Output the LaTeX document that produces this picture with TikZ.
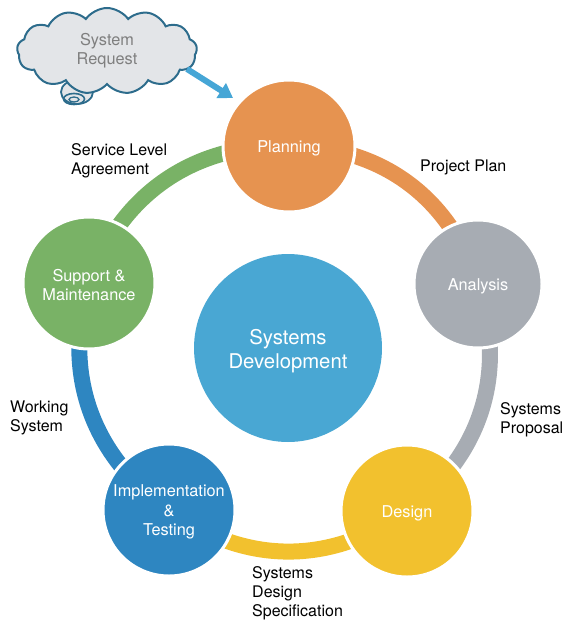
\documentclass[tikz,border=0pt]{standalone}
\usepackage{fontspec}
\setmainfont{TeX Gyre Heros}
\usetikzlibrary{shapes.symbols,arrows.meta}
\definecolor{cplan}{HTML}{E69350}
\definecolor{cana}{HTML}{A7ACB3}
\definecolor{cdes}{HTML}{F2C12E}
\definecolor{cimp}{HTML}{2E86C1}
\definecolor{csup}{HTML}{79B266}
\definecolor{ccen}{HTML}{49A7D3}
\definecolor{carrow}{HTML}{46A6D6}
\definecolor{ccloud}{HTML}{E3E5E8}
\definecolor{ccloudb}{HTML}{2D6C8C}
\definecolor{ccloudt}{HTML}{7F7F7F}
\pgfdeclarelayer{bg}
\pgfsetlayers{bg,main}
\tikzset{
  stage/.style={circle, minimum size=132pt, inner sep=0pt, draw=white, line width=3pt,
    text=white, align=center, font=\fontsize{16.3}{19.5}\selectfont},
  stagetext/.style={text=white, align=center, inner sep=0pt, font=\fontsize{16.3}{19.5}\selectfont},
  ring/.style={line width=16pt},
  lbl/.style={anchor=west, align=left, inner sep=0pt, font=\fontsize{16}{18.8}\selectfont, text=black},
}
\begin{document}
\begin{tikzpicture}[x=1pt,y=1pt]
\useasboundingbox (0,0) rectangle (565,-621);
% stages
\node[stage, fill=cplan] (plan) at (289,-146) {};
\node[stage, fill=cana, minimum size=128pt] (ana) at (478,-284) {};
\node[stage, fill=cdes] (des) at (407,-511) {};
\node[stage, fill=cimp] (imp) at (169,-510) {};
\node[stage, fill=csup] (sup) at (89,-283) {};
\node[circle, minimum size=188pt, inner sep=0pt, fill=ccen] (cen) at (288,-348) {};
\node[stagetext] (tplan) at ([yshift=-2pt]plan.center) {Planning};
\node[stagetext] (tana) at ([yshift=-2pt]ana.center) {Analysis};
\node[stagetext] (tdes) at ([yshift=-2pt]des.center) {Design};
\node[stagetext] (timp) at ([yshift=-2pt]imp.center) {Implementation\\\&\\Testing};
\node[stagetext] (tsup) at ([yshift=-2pt]sup.center) {Support \&\\Maintenance};
\node[stagetext, font=\fontsize{20.3}{23.5}\selectfont] (tcen) at ([yshift=-3pt]cen.center) {Systems\\Development};
% ring arcs
\begin{pgfonlayer}{bg}
\draw[ring, cplan] (plan.center) to[bend left=36] (ana.center);
\draw[ring, cana] (ana.center) to[bend left=36] (des.center);
\draw[ring, cdes] (des.center) to[bend left=36] (imp.center);
\draw[ring, cimp] (imp.center) to[bend left=36] (sup.center);
\draw[ring, csup] (sup.center) to[bend left=36] (plan.center);
\end{pgfonlayer}
% labels
\node[lbl] (l1) at (71,-161) {Service Level\\Agreement};
\node[lbl] (l2) at (420,-167) {Project Plan};
\node[lbl] (l3) at (500,-420) {Systems\\Proposal};
\node[lbl] (l4) at (10,-418) {Working\\System};
\node[lbl] (l5) at (252,-593) {Systems\\Design\\Specification};
% cloud tail (behind cloud)
\draw[ccloudb, line width=1.8pt, fill=ccloud] (77,-92) ellipse (16pt and 12pt);
% cloud
\node[cloud, cloud puffs=13, cloud puff arc=110, aspect=2.2, minimum width=180pt, minimum height=86pt,
  fill=ccloud, draw=ccloudb, line width=2pt, text=ccloudt, align=center,
  font=\fontsize{16.3}{19}\selectfont] (cloud) at (107,-51) {System\\Request};
\draw[ccloudb, line width=1.6pt] (74,-99) ellipse (10.5pt and 5.5pt);
\draw[ccloudb, line width=1.3pt] (74,-99.5) ellipse (5pt and 2.5pt);
% arrow
\coordinate (as) at (187,-69);
\coordinate (ae) at (233,-98);
\draw[carrow, line width=6pt, -{Triangle[width=17pt,length=14pt]}] (as) -- (ae);
\end{tikzpicture}
\end{document}
